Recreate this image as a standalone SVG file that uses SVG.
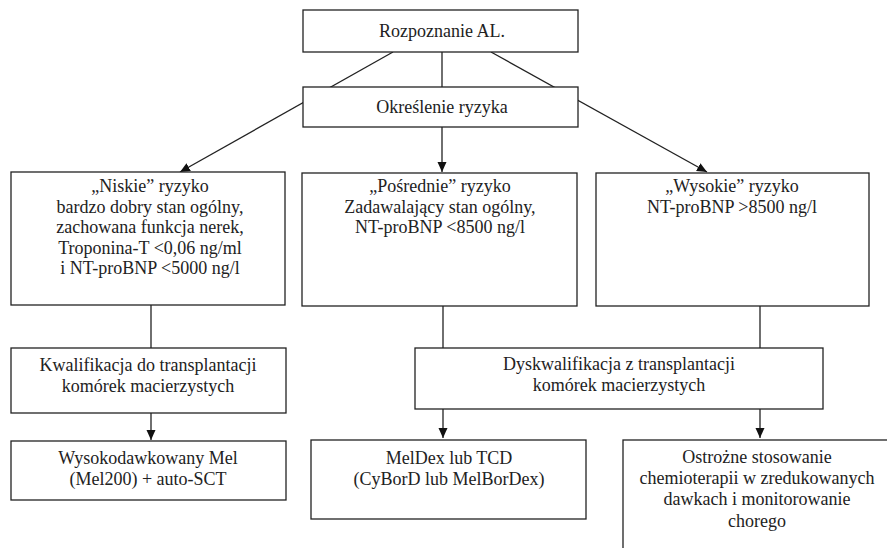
<svg xmlns="http://www.w3.org/2000/svg" width="887" height="548" viewBox="0 0 887 548">
<style>
.box{fill:#fff;stroke:#222;stroke-width:1.3}
.ln{fill:none;stroke:#222;stroke-width:1.3}
.t{font-family:"Liberation Serif","Times New Roman",serif;font-size:18px;fill:#222;text-anchor:middle}
</style>
<defs>
<marker id="ah" viewBox="0 0 10 10" refX="10" refY="5" markerWidth="10" markerHeight="10" markerUnits="userSpaceOnUse" orient="auto">
<path d="M0,0.5 L10,5 L0,9.5 Z" fill="#111"/>
</marker>
</defs>
<rect width="887" height="548" fill="#fff"/>
<g id="connectors">
<line class="ln" x1="393" y1="52" x2="180" y2="172" marker-end="url(#ah)"/>
<line class="ln" x1="491" y1="52" x2="707" y2="172" marker-end="url(#ah)"/>
<line class="ln" x1="442" y1="52" x2="442" y2="87"/>
<line class="ln" x1="442" y1="127" x2="442" y2="172" marker-end="url(#ah)"/>
<line class="ln" x1="151" y1="305" x2="151" y2="348"/>
<line class="ln" x1="151" y1="413" x2="151" y2="440" marker-end="url(#ah)"/>
<line class="ln" x1="443" y1="306" x2="443" y2="348"/>
<line class="ln" x1="760" y1="306" x2="760" y2="348"/>
<line class="ln" x1="443" y1="409" x2="443" y2="438" marker-end="url(#ah)"/>
<line class="ln" x1="760" y1="409" x2="760" y2="438" marker-end="url(#ah)"/>
</g>
<g font-family="Liberation Serif, Times New Roman, serif" font-size="18" text-anchor="middle" fill="#222">
<g id="n-rozpoznanie">
<rect class="box" x="303" y="10" width="275" height="42"/>
<text class="t" x="442" y="37">Rozpoznanie AL.</text>
</g>
<g id="n-okreslenie">
<rect class="box" x="303" y="87" width="275" height="40"/>
<text class="t" x="442" y="113">Określenie ryzyka</text>
</g>
<g id="n-niskie">
<rect class="box" x="11" y="172" width="274" height="133"/>
<text class="t" x="150" y="192">„Niskie” ryzyko</text>
<text class="t" x="150" y="213">bardzo dobry stan ogólny,</text>
<text class="t" x="150" y="233">zachowana funkcja nerek,</text>
<text class="t" x="150" y="254">Troponina-T &lt;0,06 ng/ml</text>
<text class="t" x="150" y="274">i NT-proBNP &lt;5000 ng/l</text>
</g>
<g id="n-posrednie">
<rect class="box" x="302" y="173" width="275" height="133"/>
<text class="t" x="440" y="192">„Pośrednie” ryzyko</text>
<text class="t" x="440" y="213">Zadawalający stan ogólny,</text>
<text class="t" x="440" y="233">NT-proBNP &lt;8500 ng/l</text>
</g>
<g id="n-wysokie">
<rect class="box" x="596" y="173" width="273" height="133"/>
<text class="t" x="732" y="192">„Wysokie” ryzyko</text>
<text class="t" x="732" y="213">NT-proBNP &gt;8500 ng/l</text>
</g>
<g id="n-kwalifikacja">
<rect class="box" x="11" y="348" width="275" height="65"/>
<text class="t" x="148" y="371">Kwalifikacja do transplantacji</text>
<text class="t" x="148" y="392">komórek macierzystych</text>
</g>
<g id="n-dyskwalifikacja">
<rect class="box" x="415" y="348" width="408" height="61"/>
<text class="t" x="619" y="370">Dyskwalifikacja z transplantacji</text>
<text class="t" x="619" y="391">komórek macierzystych</text>
</g>
<g id="n-mel">
<rect class="box" x="11" y="441" width="275" height="59"/>
<text class="t" x="148" y="464">Wysokodawkowany Mel</text>
<text class="t" x="148" y="485">(Mel200) + auto-SCT</text>
</g>
<g id="n-meldex">
<rect class="box" x="311" y="440" width="275" height="79"/>
<text class="t" x="449" y="464">MelDex lub TCD</text>
<text class="t" x="449" y="485">(CyBorD lub MelBorDex)</text>
</g>
<g id="n-ostrozne">
<rect class="box" x="623" y="440" width="280" height="130"/>
<text class="t" x="757" y="463">Ostrożne stosowanie</text>
<text class="t" x="757" y="484">chemioterapii w zredukowanych</text>
<text class="t" x="757" y="505">dawkach i monitorowanie</text>
<text class="t" x="757" y="527">chorego</text>
</g>
</g>
</svg>
